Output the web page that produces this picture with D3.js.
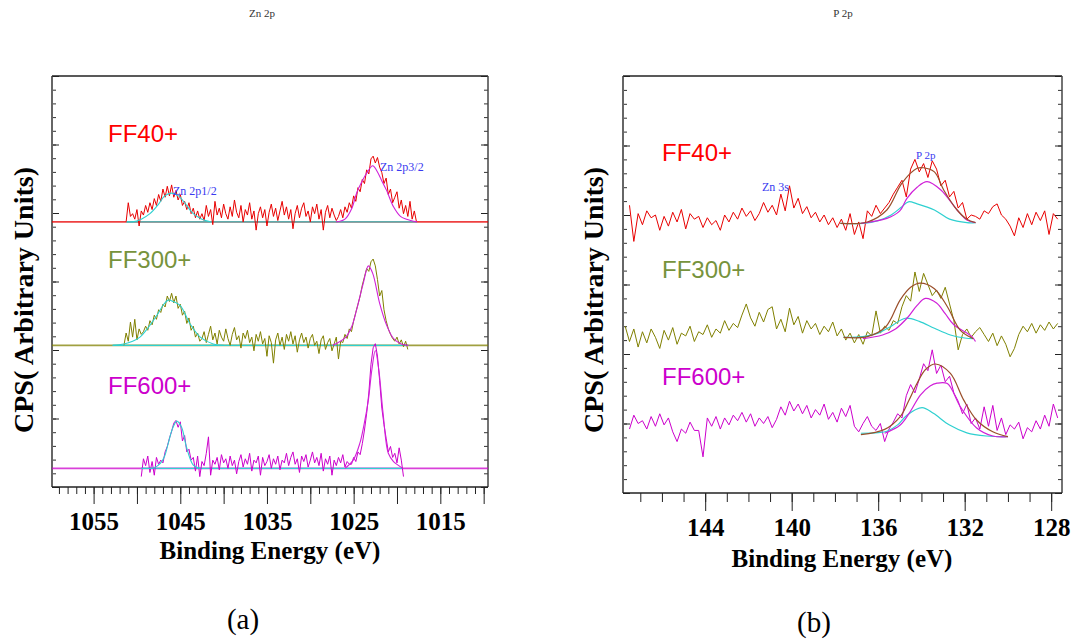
<!DOCTYPE html>
<html>
<head>
<meta charset="utf-8">
<script src="https://cdn.jsdelivr.net/npm/d3@7"></script>
<style>
  html, body { margin: 0; padding: 0; background: #fff; }
  svg { display: block; }
</style>
</head>
<body>
<svg id="fig" width="1081" height="639"></svg>
<script>
// ---------------- samples ----------------
const samples = ["FF40+", "FF300+", "FF600+"];
const lineColors = ["#e80000", "#808000", "#cc00cc"];
const labelColors = ["#ff0000", "#77933c", "#cc00cc"];

// ---------------- Zn 2p region (a) ----------------
const znStep = 0.25;                       // eV between recorded points
const znStarts = [1051.25, 1051.5, 1049.5];  // first binding energy of each scan
const znOffsets = [193.5, 103.4, 13.6];      // vertical stacking offsets (CPS units)

const znFF40 = [
  0, 14, 4, 6, 2, 9, -3, 8, 5, 12, 7, 14, 9, 17, 12, 20, 15, 24, 18, 26, 19,
  27, 18, 23, 16, 20, 12, 15, 9, 14, 6, 10, 3, 8, 2, 6,
  1, 12, 4, 9, -2, 15, 5, 10, 3, 13,
  6, 2, 11, 4, 16, 7, 3, 12, 0, 9,
  5, 14, 2, 8, -6, 6, 11, 3, 9, -3,
  7, 13, 4, 10, 1, 8, 15, 5, 11, 2,
  9, -5, 6, 12, 3, 10, 14, 4, 8, 0,
  11, 6, 13, 2, 9, -6, 7, 12, 3, 10,
  5, 1,
  4, 9, 3, 11, 7, 14, 10, 19, 15, 25, 22, 31, 28, 38, 35, 46,
  48, 43, 47, 40,
  36, 28, 32, 20, 24, 14, 18, 22, 10, 16, 6, 12, 4, 15, 2, 8, 0
];
const znFF300 = [
  0, 9, 3, 17, 6, 19, 4, 12, 8, 10, 14, 11, 18, 15, 22, 19, 26, 24, 30, 28, 36, 32,
  38, 31, 36, 27, 30, 22, 25, 16, 20, 11, 14, 6, 9, 3,
  5, 10, 2, 8, 14, 4, 9, 1, 11, 6,
  3, 12, 5, 0, 8, 13, 4, 7, -2, 9,
  5, 11, 2, 6, -4, 8, 3, 10, 1, 5,
  -8, 7, 2, -13, 4, 9, 0, 6, -3, 8,
  3, 10, 1, 7, -5, 4, 9, 2, 6, -2,
  5, 8, 0, 3, -6, 4, 7, -3, 2, 5,
  -4, 1, 6, -10, 3,
  2, 8, 5, 12, 10, 18, 24, 30, 36, 44, 50, 56, 54,
  61, 63, 58,
  48, 36, 40, 26, 18, 12, 8, 5, 3, 6, 1, 4, -1, 3, -3
];
const znFF600 = [
  -6, 7, 2, 9, -3, 5, -5, 8, 3,
  6, 4, 12, 16, 22, 27, 33, 35,
  30, 34, 20, 24, 12, 14, 6, 8,
  -2, 9, -6, 5, 2, 11, 23, -5, 6, 3,
  8, -1, 10, 4, 7, 0, 9, 2, 6, -4,
  5, 10, 1, 7, 3, 11, -2, 6, 4, 9,
  -5, 8, 2, 5, 10, 0, 7, 3, 9, -1,
  6, 4, 11, 2, 8, 12, 3, 7, -3, 9,
  5, 10, 1, 6, 12, 4, 8, 2, 11, -2,
  7, 3, 9, -5, 6, 2, 8, 4, 10, 1,
  5, 3,
  3, 8, 5, 12, 10, 18, 28, 40, 55,
  76, 88, 91, 82, 64,
  44, 32, 22, 12, 16, 8, 11, 4, 15, 6, -6
];
const znData = [znFF40, znFF300, znFF600];

// background spans of the fits [from, to] (eV)
const znBackground = [[1051.2, 1017.7], [1052.8, 1018.7], [1049.5, 1019.3]];
// fitted Zn 2p1/2 components [eV, CPS]
const zn2p12Fits = [
  [[1051.2,0],[1050.5,0],[1049.5,2],[1048.5,6],[1047.5,13],[1046.8,19],[1046,21],[1045.2,19],[1044.5,14],[1043.5,6],[1042.5,2],[1041.5,0]],
  [[1052.8,0],[1051.5,1],[1050.5,3],[1049.65,6],[1048.7,13],[1047.7,22],[1046.9,30],[1046.4,33],[1045.8,32],[1045,29],[1043.9,16],[1042.7,6],[1041.2,1],[1040,0]],
  [[1049.5,0],[1048,0.5],[1047.3,3.6],[1046.8,9],[1046.4,18],[1045.9,29],[1045.4,34.5],[1044.85,30],[1044.3,15.8],[1043.5,2.4],[1042.7,0]]
];
// fitted Zn 2p3/2 components [eV, CPS]
const zn2p32Fits = [
  [[1027,0],[1026,2],[1025.2,10],[1024.66,21],[1024,30],[1023.5,35.5],[1022.8,41],[1022.3,37],[1021.8,30.6],[1021.2,23],[1020.4,11],[1019.6,4],[1018.9,2],[1017.7,0]],
  [[1027.4,0],[1025.9,6],[1025.2,14],[1024.66,26],[1023.9,45],[1023.3,58],[1022.8,52.5],[1022,30.7],[1021.2,14.8],[1020.4,5],[1019.5,1],[1018.7,0]],
  [[1026,0],[1025.05,6],[1024.3,18],[1023.8,32],[1023.3,50],[1022.9,72],[1022.5,86],[1022.1,72],[1021.6,40],[1021,11],[1020.4,5],[1019.8,2],[1019.3,0]]
];
const znTickLabels = [1055, 1045, 1035, 1025, 1015];

// ---------------- P 2p region (b) ----------------
const pStep = 0.2;
const pStarts = [147.5, 147.7, 147.5];
const pOffsets = [195, 112, 42];

const pFF40 = [
  12, -14, 6, -2, 8, 3, 5, -6, 4, -3,
  7, 0, 9, -5, 6, 2, 4, -4, 3, -2,
  1, -6, 5, 0, 7, 2, 10, 4, 8, 1,
  6, 14, 7, 12, 5, 20, 8, 26, 10, 17,
  6, 11, 3, 7, 0, 5, -2, 3, -4, 2,
  -6, 6, -9, 0, -12, 8, 4, 12, 6, 10,
  14, 20, 25, 30, 18, 38, 45, 36, 42, 32,
  44, 38, 26, 30, 18, 22, 10, 14, 2, 5,
  4, 2, 8, 6, 11, 13, 5, 2, -3, -10,
  3, -4, 6, -2, 7, 1, 8, -9, 6, 2
];
const pFF300 = [
  8, -3, 6, -7, 4, -4, 6, 0, -8, 5,
  -2, 7, -5, 3, 1, 8, -3, 4, 2, 9,
  0, 6, 3, 12, 5, 10, 7, 16, 24, 14,
  8, 18, 11, 20, 22, 6, 13, 4, 21, 9,
  15, 3, 12, 6, 10, 2, 8, 4, 11, 1,
  6, -2, 3, -4, 2, -5, 4, 1, 19, 3,
  8, 5, 12, 10, 22, 30, 26, 47, 33, 46,
  38, 30, 34, 28, 36, 24, 12, -9, 2, 6,
  0, 4, 7, 2, -3, 3, -6, 1, -5, -14,
  -8, 2, 8, 4, 10, 3, 9, 5, 11, 6,
  10
];
const pFF600 = [
  4, 14, 8, 10, 4, 13, 6, 15, 7, 12,
  2, -5, 4, 1, 9, 3, 3, -16, 12, 6,
  13, 4, 12, 7, 14, 10, 16, 9, 15, 6,
  12, 8, 13, 5, 11, 20, 14, 24, 17, 22,
  15, 21, 12, 18, 14, 22, 11, 16, 9, 19,
  13, 21, 6, 2, 8, 13, 6, 3, 8, -5,
  4, 9, 15, 12, 28, 36, 30, 40, 51, 46,
  61, 44, 50, 38, 42, 30, 24, 15, 22, 8,
  12, 4, 20, 6, 21, 3, 12, 0, 7, 4,
  9, -3, 5, 2, 10, 4, 14, 6, 22, 12
];
const pData = [pFF40, pFF300, pFF600];

// fitted components [eV, CPS]
const pCyanFits = [
  [[137.75,-1],[136.7,-1],[136,1],[135.4,5],[134.9,11],[134.6,14.5],[134.2,13],[133.4,8.6],[132.7,2],[131.9,-0.5],[131.5,-0.5]],
  [[137.6,0],[136.7,0.5],[136,3],[135.4,8],[134.74,13.7],[134.1,11.5],[133.4,6.5],[132.66,1.7],[132,-0.5],[131.6,-1]],
  [[136.8,1],[136,1.5],[135.6,2.4],[135.1,7],[134.67,14],[133.97,19.4],[133.45,15.3],[132.7,6.9],[131.9,1.3],[131,-1],[130,-1.5]]
];
const pMagentaFits = [
  [[136.8,-1],[135.6,2.6],[135,8],[134.67,17],[134.2,25],[133.74,29],[133.1,23],[132.35,8.6],[131.9,1.4],[131.5,-0.5]],
  [[136.7,-1],[135.8,1.7],[135.2,6],[134.67,13.7],[134.2,23],[133.82,28],[133.3,24.7],[132.9,17],[132.5,9],[131.7,1],[131.5,-3]],
  [[135.7,1],[134.98,6.9],[134.5,17],[134.05,28.5],[133.6,35],[133.28,37],[132.8,36.7],[132.2,20],[131.46,5],[130.7,-1],[130,-1.5]]
];
const pEnvelopeFits = [
  [[137.75,-1],[136.5,0],[135.6,8.6],[134.9,28],[134.2,38.6],[133.9,39],[133.4,36],[132.97,23],[132.35,8.6],[131.9,2],[131.5,-0.5]],
  [[137.6,0],[136.5,0.5],[135.65,7.6],[134.98,27],[134.5,36],[134.07,39],[133.4,35],[132.8,22],[132.2,5],[131.6,-1]],
  [[136.8,0],[135.7,3.8],[134.98,13],[134.6,24],[134.2,37],[133.8,47],[133.35,50.8],[132.66,44],[132.05,25],[131.45,10.5],[130.7,2],[130,-1.5]]
];
const pTickLabels = [144, 140, 136, 132, 128];

// ---------------- drawing ----------------
const svg = d3.select("#fig");
const serif = "'Liberation Serif', 'Times New Roman', serif";
const sans = "'Liberation Sans', Arial, sans-serif";
const cyan = "#2fd0d0", magenta = "#d020d8", brown = "#9a4e2a", peakBlue = "#3a3af0";

function toPoints(values, start, step) {
  return values.map((v, i) => [start - i * step, v]);
}

function drawFrame(g, cfg, x, y) {
  const { left, right, top, bottom } = cfg;
  // bottom ticks (outward): minor every 1 eV, major per cfg
  const minor = d3.range(Math.floor(cfg.xDomain[0]), Math.ceil(cfg.xDomain[1]) - 1, -1);
  const major = minor.filter(v => v % cfg.majorEvery === 0);
  g.append("g").attr("transform", `translate(0,${bottom})`)
    .call(d3.axisBottom(x).tickValues(minor).tickSize(cfg.minorLen).tickFormat(""))
    .call(s => s.select(".domain").remove());
  const ax = g.append("g").attr("transform", `translate(0,${bottom})`)
    .call(d3.axisBottom(x).tickValues(major).tickSize(cfg.majorLen)
      .tickFormat(d => cfg.tickLabels.includes(d) ? d : ""))
    .call(s => s.select(".domain").remove());
  ax.selectAll("text")
    .attr("y", cfg.labelY - bottom).attr("dy", 0)
    .style("font-family", serif).style("font-weight", "bold")
    .style("font-size", "25px").attr("fill", "#000");
  g.selectAll(".tick line").attr("stroke", "#222");

  // left / right ticks (inward)
  const yMinor = d3.range(0, 301, 10), yMajor = d3.range(0, 301, 50);
  const yAxes = [
    [d3.axisLeft, left], [d3.axisRight, right]
  ];
  yAxes.forEach(([fn, xPos]) => {
    g.append("g").attr("transform", `translate(${xPos},0)`)
      .call(fn(y).tickValues(yMinor).tickSize(-4).tickFormat(""))
      .call(s => s.select(".domain").remove())
      .selectAll("line").attr("stroke", "#333");
    g.append("g").attr("transform", `translate(${xPos},0)`)
      .call(fn(y).tickValues(yMajor).tickSize(-7).tickFormat(""))
      .call(s => s.select(".domain").remove())
      .selectAll("line").attr("stroke", "#222");
  });

  g.append("line").attr("x1", left).attr("x2", left).attr("y1", top).attr("y2", bottom)
    .attr("stroke", "#666").attr("stroke-width", 2);
  g.append("line").attr("x1", left).attr("x2", right).attr("y1", top).attr("y2", top)
    .attr("stroke", "#222").attr("stroke-width", 1.5);
  g.append("line").attr("x1", right).attr("x2", right).attr("y1", top).attr("y2", bottom)
    .attr("stroke", "#444").attr("stroke-width", 1.5);
  g.append("line").attr("x1", left).attr("x2", right).attr("y1", bottom).attr("y2", bottom)
    .attr("stroke", "#222").attr("stroke-width", 1.5);

  // titles and axis labels
  g.append("text").attr("x", cfg.titleX).attr("y", 17).attr("text-anchor", "middle")
    .style("font-family", serif).style("font-size", "11px").attr("fill", "#333").text(cfg.title);
  g.append("text").attr("x", cfg.xLabelX).attr("y", cfg.xLabelY).attr("text-anchor", "middle")
    .style("font-family", serif).style("font-weight", "bold").style("font-size", "25px")
    .text("Binding Energy (eV)");
  g.append("text").attr("transform", `translate(${cfg.yLabelX},300) rotate(-90)`)
    .attr("text-anchor", "middle")
    .style("font-family", serif).style("font-weight", "bold").style("font-size", "28px")
    .text("CPS( Arbitrary Units)");
  g.append("text").attr("x", cfg.tagX).attr("y", cfg.tagY).attr("text-anchor", "middle")
    .style("font-family", serif).style("font-size", "29px").text(cfg.tag);
}

// ----- panel (a): Zn 2p -----
(function () {
  const cfg = {
    left: 52, right: 488, top: 76, bottom: 487,
    xDomain: [1059.8, 1009.5], majorEvery: 5, minorLen: 7, majorLen: 17,
    tickLabels: znTickLabels, labelY: 530, title: "Zn 2p", titleX: 262,
    xLabelX: 270, xLabelY: 559, yLabelX: 33, tag: "(a)", tagX: 243, tagY: 629
  };
  const x = d3.scaleLinear().domain(cfg.xDomain).range([cfg.left, cfg.right]);
  const y = d3.scaleLinear().domain([0, 300]).range([cfg.bottom, cfg.top]);
  const g = svg.append("g");
  drawFrame(g, cfg, x, y);

  const plot = g.append("g");
  const labelYs = [142, 268, 394];
  samples.forEach((name, k) => {
    const off = znOffsets[k];
    const line = d3.line().x(d => x(d[0])).y(d => y(off + d[1]));
    const smooth = d3.line().curve(d3.curveCatmullRom.alpha(0.5)).x(d => x(d[0])).y(d => y(off + d[1]));
    // full-width baseline
    plot.append("path").attr("d", line([[cfg.xDomain[0], 0], [cfg.xDomain[1], 0]]))
      .attr("fill", "none").attr("stroke", lineColors[k]).attr("stroke-opacity", 0.75).attr("stroke-width", 1.6);
    // background of the fit
    plot.append("path").attr("d", line(znBackground[k].map(e => [e, 0])))
      .attr("fill", "none").attr("stroke", cyan).attr("stroke-width", 1.4);
    // measured spectrum
    plot.append("path").attr("d", line(toPoints(znData[k], znStarts[k], znStep)))
      .attr("fill", "none").attr("stroke", lineColors[k]).attr("stroke-width", 1).attr("stroke-linejoin", "round");
    // fitted components
    plot.append("path").attr("d", smooth(zn2p12Fits[k]))
      .attr("fill", "none").attr("stroke", cyan).attr("stroke-width", 1.1);
    plot.append("path").attr("d", smooth(zn2p32Fits[k]))
      .attr("fill", "none").attr("stroke", magenta).attr("stroke-width", 1.1);
    // sample label
    plot.append("text").attr("x", 108).attr("y", labelYs[k])
      .style("font-family", sans).style("font-size", "24px").attr("fill", labelColors[k]).text(name);
  });
  plot.append("text").attr("x", 173).attr("y", 195).style("font-family", serif)
    .style("font-size", "12px").attr("fill", peakBlue).text("Zn 2p1/2");
  plot.append("text").attr("x", 380).attr("y", 171).style("font-family", serif)
    .style("font-size", "12px").attr("fill", peakBlue).text("Zn 2p3/2");
})();

// ----- panel (b): P 2p -----
(function () {
  const cfg = {
    left: 623, right: 1062, top: 76, bottom: 493,
    xDomain: [147.8, 127.5], majorEvery: 4, minorLen: 9, majorLen: 18,
    tickLabels: pTickLabels, labelY: 536, title: "P 2p", titleX: 843,
    xLabelX: 842, xLabelY: 567, yLabelX: 603, tag: "(b)", tagX: 814, tagY: 632
  };
  const x = d3.scaleLinear().domain(cfg.xDomain).range([cfg.left, cfg.right]);
  const y = d3.scaleLinear().domain([0, 300]).range([cfg.bottom, cfg.top]);
  const g = svg.append("g");
  drawFrame(g, cfg, x, y);

  const plot = g.append("g");
  const labelYs = [161, 278, 385];
  samples.forEach((name, k) => {
    const off = pOffsets[k];
    const line = d3.line().x(d => x(d[0])).y(d => y(off + d[1]));
    const smooth = d3.line().curve(d3.curveCatmullRom.alpha(0.5)).x(d => x(d[0])).y(d => y(off + d[1]));
    plot.append("path").attr("d", line(toPoints(pData[k], pStarts[k], pStep)))
      .attr("fill", "none").attr("stroke", lineColors[k]).attr("stroke-width", 1).attr("stroke-linejoin", "round");
    plot.append("path").attr("d", smooth(pCyanFits[k]))
      .attr("fill", "none").attr("stroke", cyan).attr("stroke-width", 1.2);
    plot.append("path").attr("d", smooth(pMagentaFits[k]))
      .attr("fill", "none").attr("stroke", magenta).attr("stroke-width", 1.2);
    plot.append("path").attr("d", smooth(pEnvelopeFits[k]))
      .attr("fill", "none").attr("stroke", brown).attr("stroke-width", 1.2);
    plot.append("text").attr("x", 662).attr("y", labelYs[k])
      .style("font-family", sans).style("font-size", "24px").attr("fill", labelColors[k]).text(name);
  });
  plot.append("text").attr("x", 762).attr("y", 191).style("font-family", serif)
    .style("font-size", "12px").attr("fill", peakBlue).text("Zn 3s");
  plot.append("text").attr("x", 916).attr("y", 159).style("font-family", serif)
    .style("font-size", "11px").attr("fill", peakBlue).text("P 2p");
})();
</script>
</body>
</html>
